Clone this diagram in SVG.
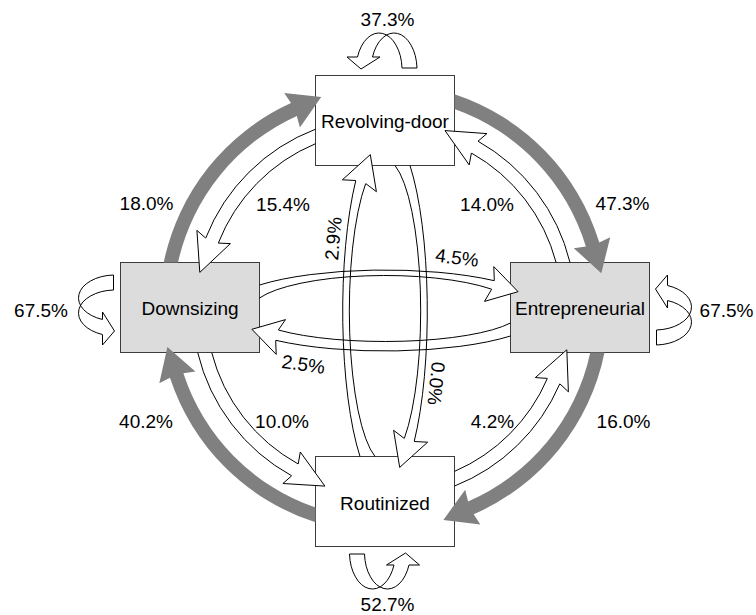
<svg xmlns="http://www.w3.org/2000/svg" width="756" height="615" viewBox="0 0 756 615">
<defs>
<style>
 .box{stroke:#3c3c3c;stroke-width:1}
 .light{fill:#ffffff}
 .grey{fill:#dcdcdc}
 text{font-family:"Liberation Sans",Arial,Helvetica,sans-serif;font-size:19px;fill:#000;text-anchor:middle}
 .flow{fill:#808080;stroke:none}
 .edge{fill:none;stroke:#000;stroke-width:1}
 .tip{fill:#fff;stroke:#000;stroke-width:1;stroke-linejoin:miter}
</style>
<!-- U-turn self-loop, drawn against a box edge whose centre is at (0,0), outside = negative y -->
<g id="loop">
 <path class="edge" d="M32.5,-7 A23 37 0 0 0 -12,-18"/>
 <path class="edge" d="M17.5,-7 A23 37 0 0 0 -27,-18"/>
 <path class="edge" d="M17.5,-7 H32.5"/>
 <path class="tip" d="M-27,-18 L-37.5,-18 L-23.5,-6 L-4.5,-18 L-12,-18"/>
</g>
</defs>
<rect width="756" height="615" fill="#fff"/>

<!-- states -->
<g id="revolving-door">
 <rect class="box light" x="315.5" y="75.5" width="139" height="90"/>
 <text x="385" y="128">Revolving-door</text>
</g>
<g id="downsizing">
 <rect class="box grey" x="120.5" y="262.5" width="139" height="90"/>
 <text x="190" y="315">Downsizing</text>
</g>
<g id="entrepreneurial">
 <rect class="box grey" x="510.5" y="262.5" width="139" height="90"/>
 <text x="580" y="315">Entrepreneurial</text>
</g>
<g id="routinized">
 <rect class="box light" x="315.5" y="456.5" width="139" height="90"/>
 <text x="385" y="509.5">Routinized</text>
</g>

<!-- transitions -->
<g id="connectors">
 <!-- dominant clockwise flows (grey ring) -->
 <g id="main-flows">
  <path class="flow" d="M163.7,262.5 A225 225 0 0 1 291,103.1 L284.2,93 L321.2,97.1 L299.9,127.6 L296.8,115.9 A211 211 0 0 0 178,262.5 Z"/>
  <path class="flow" d="M454.5,94.3 A225 225 0 0 1 599.3,242.6 L610.2,237.2 L601.3,273.3 L573.8,248.2 L585.9,246.6 A211 211 0 0 0 454.5,109.1 Z"/>
  <path class="flow" d="M604.5,352.5 A225 225 0 0 1 473.7,514.3 L480.3,524.5 L443.4,519.9 L465.2,489.7 L468.1,501.5 A211 211 0 0 0 590.3,352.5 Z"/>
  <path class="flow" d="M315.5,522.3 A225 225 0 0 1 170,377.7 L159.3,383.3 L167.4,347 L195.4,371.5 L183.4,373.3 A211 211 0 0 0 315.5,507.6 Z"/>
 </g>
 <!-- counter-clockwise flows (inner ring) -->
 <g id="reverse-flows">
  <path class="edge" d="M315.5,129.2 A191.5 191.5 0 0 0 205.7,238.1"/>
  <path class="edge" d="M315.5,143.7 A178 178 0 0 0 218.3,243.1"/>
  <path class="tip" d="M205.7,238.1 L196.9,230.4 L199.8,272.4 L230.4,243.6 L218.3,243.1"/>

  <path class="edge" d="M570,262.5 A191.5 191.5 0 0 0 478,141.2"/>
  <path class="edge" d="M556.1,262.5 A178 178 0 0 0 471.4,153"/>
  <path class="tip" d="M478,141.2 L486.9,133.6 L445,130.6 L469.2,164.9 L471.4,153"/>

  <path class="edge" d="M197.7,352.5 A191.5 191.5 0 0 0 291.7,475.8"/>
  <path class="edge" d="M211.7,352.5 A178 178 0 0 0 298.2,464"/>
  <path class="tip" d="M291.7,475.8 L282.9,483.5 L324.9,486.1 L300.3,452 L298.2,464"/>

  <path class="edge" d="M454.5,486.05 A191.5 191.5 0 0 0 559.8,383.8"/>
  <path class="edge" d="M454.5,471.4 A178 178 0 0 0 547.4,378.4"/>
  <path class="tip" d="M559.8,383.8 L568.4,391.8 L566.8,349.8 L535.3,377.6 L547.4,378.4"/>
 </g>
 <!-- horizontal exchange -->
 <g id="cross-horizontal">
  <path class="edge" d="M259.5,285 A162.3 41 0 0 1 494.3,280.7"/>
  <path class="edge" d="M259.5,298 A134.4 35 0 0 1 491.7,289.2"/>
  <path class="tip" d="M494.3,280.7 L493.8,266.6 L518.1,291.7 L484.5,301.4 L491.7,289.2"/>

  <path class="edge" d="M510.5,336 A162.3 41 0 0 1 275.7,340.3"/>
  <path class="edge" d="M510.5,323 A137.2 31 0 0 1 278.3,330"/>
  <path class="tip" d="M275.7,340.3 L276.2,354.4 L251.9,329.3 L285.5,319.6 L278.3,330"/>
 </g>
 <!-- vertical exchange -->
 <g id="cross-vertical">
  <path class="edge" d="M360,456.5 A42.3 180.4 0 0 1 355.8,180.5"/>
  <path class="edge" d="M375,456.5 A35.7 151.6 0 0 1 365.7,183.5"/>
  <path class="tip" d="M355.8,180.5 L342.4,179.8 L370.3,154.6 L376.4,191.7 L365.7,183.5"/>

  <path class="edge" d="M410,165.5 A42.3 180.4 0 0 1 414.2,441.5"/>
  <path class="edge" d="M395,165.5 A35.7 151.6 0 0 1 404.3,438.5"/>
  <path class="tip" d="M414.2,441.5 L427.6,442.2 L399.7,467.4 L393.6,430.3 L404.3,438.5"/>
 </g>
 <!-- self transitions -->
 <g id="self-loops">
  <use href="#loop" transform="translate(384.5,75)"/>
  <use href="#loop" transform="translate(120.5,307.5) rotate(-90)"/>
  <use href="#loop" transform="translate(649.5,312.5) rotate(90)"/>
  <use href="#loop" transform="translate(382,547) rotate(180)"/>
 </g>
</g>

<!-- transition shares -->
<g id="labels">
 <text x="387.5" y="25.5">37.3%</text>
 <text x="146.5" y="210">18.0%</text>
 <text x="283" y="210.5">15.4%</text>
 <text x="487" y="210.5">14.0%</text>
 <text x="622.5" y="210">47.3%</text>
 <text x="41" y="316.5">67.5%</text>
 <text x="726.5" y="316.5">67.5%</text>
 <text x="146" y="428.3">40.2%</text>
 <text x="282" y="428.3">10.0%</text>
 <text x="492.5" y="428.3">4.2%</text>
 <text x="623.5" y="428.3">16.0%</text>
 <text x="387.5" y="610.5">52.7%</text>
 <text transform="translate(457,257.5) rotate(7)" y="6.8">4.5%</text>
 <text transform="translate(303.5,364) rotate(8)" y="6.8">2.5%</text>
 <text transform="translate(333,238.5) rotate(-85)" y="6.8">2.9%</text>
 <text transform="translate(436.5,383.5) rotate(96)" y="6.8">0.0%</text>
</g>
</svg>
